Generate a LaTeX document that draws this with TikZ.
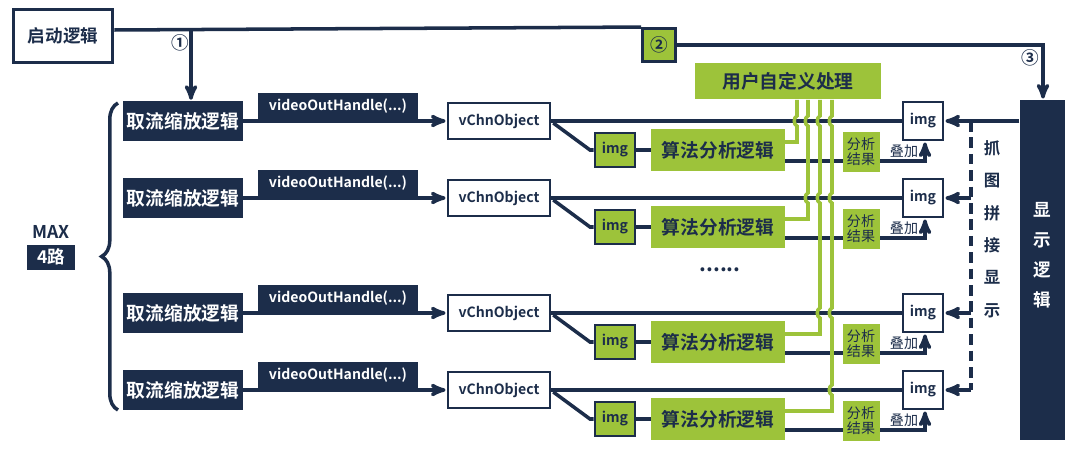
\documentclass[tikz,border=0pt]{standalone}
\usepackage{fontspec}
\setmainfont{Noto Sans CJK SC}[BoldFont={* Bold}]
\usetikzlibrary{positioning,arrows,decorations.pathreplacing}
\definecolor{navy}{HTML}{1C2D4A}
\definecolor{lime}{HTML}{9DC33A}
\tikzset{
>=stealth',
  darkbox/.style={rectangle, fill=navy, text=white, inner sep=0pt, font=\bfseries},
  whitebox/.style={rectangle, fill=white, draw=navy, line width=2.2pt, text=navy, inner sep=0pt, font=\bfseries},
  greenbox/.style={rectangle, fill=lime, text=navy, inner sep=0pt, font=\bfseries},
  line/.style={draw=navy, line width=3pt},
  gline/.style={draw=lime, line width=3pt},
  arr/.style={line, ->, shorten >=1pt}
}
\begin{document}
\begin{tikzpicture}[x=0.03cm,y=-0.03cm]
    \useasboundingbox (0,0) rectangle (1080,454);

    % top logic
    \node[whitebox, line width=3pt, minimum width=2.97cm, minimum height=1.59cm, font=\bfseries\fontsize{15}{15}\selectfont] (start) at (63,36) {启动逻辑};
    \node[greenbox, draw=navy, line width=2.2pt, minimum size=1.0cm, font=\bfseries\fontsize{15}{15}\selectfont] (two) at (659,45) {②};
    \node[greenbox, minimum width=5.6cm, minimum height=1.1cm, font=\bfseries\fontsize{16}{16}\selectfont] (user) at (788,81) {用户自定义处理};
    \node[darkbox, minimum width=1.35cm, minimum height=10.2cm] (show) at (1042,270) {};
    \node[text=white, align=center, font=\bfseries\fontsize{15}{15}\selectfont,
          execute at begin node={\baselineskip=25.5pt}] (showtxt) at (1042,255) {显\\示\\逻\\辑};
    \coordinate (c1) at (191,30);
    \coordinate (c3) at (1043,45);

    \draw[line] (start.east |- c1) -- (two.north west);
    \draw[arr] (c1) -- (191,101);
    \node[text=navy, font=\bfseries\fontsize{15}{15}\selectfont] at (180,43) {①};
    \draw[arr] (two.east) -- (c3) -- (show.north -| c3);
    \node[text=navy, font=\bfseries\fontsize{15}{15}\selectfont] at (1030,58) {③};

    % left brace
    \draw[line, decorate, decoration={brace, amplitude=14pt}] (118,410) -- (118,103);
    \node[text=navy, font=\bfseries\fontsize{15}{15}\selectfont] (max) at (51,232) {MAX};
    \node[darkbox, minimum width=1.41cm, minimum height=0.75cm, font=\bfseries\fontsize{15}{15}\selectfont, below=0.05cm of max] (four) {4路};

    % rows
    \foreach \c [count=\i] in {121,198,313,390}{
      \node[darkbox, minimum width=3.6cm, minimum height=1.2cm, font=\bfseries\fontsize{16}{16}\selectfont] (ql\i) at (183,\c) {取流缩放逻辑};
      \node[darkbox, minimum width=4.8cm, minimum height=0.78cm, font=\bfseries\fontsize{12}{12}\selectfont] (vh\i) at (338,\c-15) {videoOutHandle(...)};
      \node[whitebox, minimum width=3.06cm, minimum height=1.08cm, font=\bfseries\fontsize{12}{12}\selectfont] (vc\i) at (499,\c) {vChnObject};
      \node[whitebox, minimum width=1.2cm, minimum height=1.14cm, font=\bfseries\fontsize{12}{12}\selectfont] (img\i) at (923,\c) {img};
      \node[greenbox, draw=navy, line width=2.2pt, minimum width=1.2cm, minimum height=1.02cm, font=\bfseries\fontsize{12}{12}\selectfont] (gimg\i) at (615,\c+29) {img};
      \node[greenbox, minimum width=4.0cm, minimum height=1.26cm, font=\bfseries\fontsize{16}{16}\selectfont] (sf\i) at (718,\c+29) {算法分析逻辑};
      \draw[arr] (ql\i.east) -- (vc\i.west);
      \draw[line] (vc\i.east) -- (img\i.west);
      \draw[line] (vc\i.east) ++(2,2) -- (590,\c+29) -- (gimg\i.west);
      \draw[line] (gimg\i.east) -- (sf\i.west);
      \coordinate (up\i) at (925,\c+40);
      \draw[arr] (sf\i.east |- up\i) -- (up\i) -- (img\i.south -| up\i);
      \node[greenbox, minimum width=1.11cm, minimum height=1.2cm, align=center, font=\fontsize{12}{13}\selectfont] (jg\i) at (861,\c+31) {分析\\结果};
      \node[text=navy, font=\fontsize{12}{12}\selectfont, fill=white, inner sep=0.5pt] at (904,\c+30) {叠加};
    }

    % green links
    \draw[gline] (797,100) -- (797,116) to[bend right=70] (797,126) -- (797,142) -- (sf1.east |- 0,142);
    \draw[gline] (808,100) -- (808,116) to[bend right=70] (808,126) -- (808,193) to[bend right=70] (808,203) -- (808,219) -- (sf2.east |- 0,219);
    \draw[gline] (820,100) -- (820,116) to[bend right=70] (820,126) -- (820,193) to[bend right=70] (820,203) -- (820,308) to[bend right=70] (820,318) -- (820,334) -- (sf3.east |- 0,334);
    \draw[gline] (832,100) -- (832,116) to[bend right=70] (832,126) -- (832,193) to[bend right=70] (832,203) -- (832,308) to[bend right=70] (832,318) -- (832,385) to[bend right=70] (832,395) -- (832,411) -- (sf4.east |- 0,411);

    % display links
    \draw[arr] (show.west |- img1) -- (img1.east);
    \draw[line, dash pattern=on 9pt off 5pt] (971,121) -- (971,390);
    \foreach \i in {2,3,4}{
      \draw[arr] (971,0 |- img\i) -- (img\i.east);
    }
    \node[text=navy, align=center, fill=white, inner sep=1pt, font=\bfseries\fontsize{14}{14}\selectfont,
          execute at begin node={\baselineskip=27.6pt}] (grab) at (992,229) {抓\\图\\拼\\接\\显\\示};

    \node[text=navy, font=\bfseries\fontsize{18}{18}\selectfont] (dots) at (720,270) {......};
\end{tikzpicture}
\end{document}
